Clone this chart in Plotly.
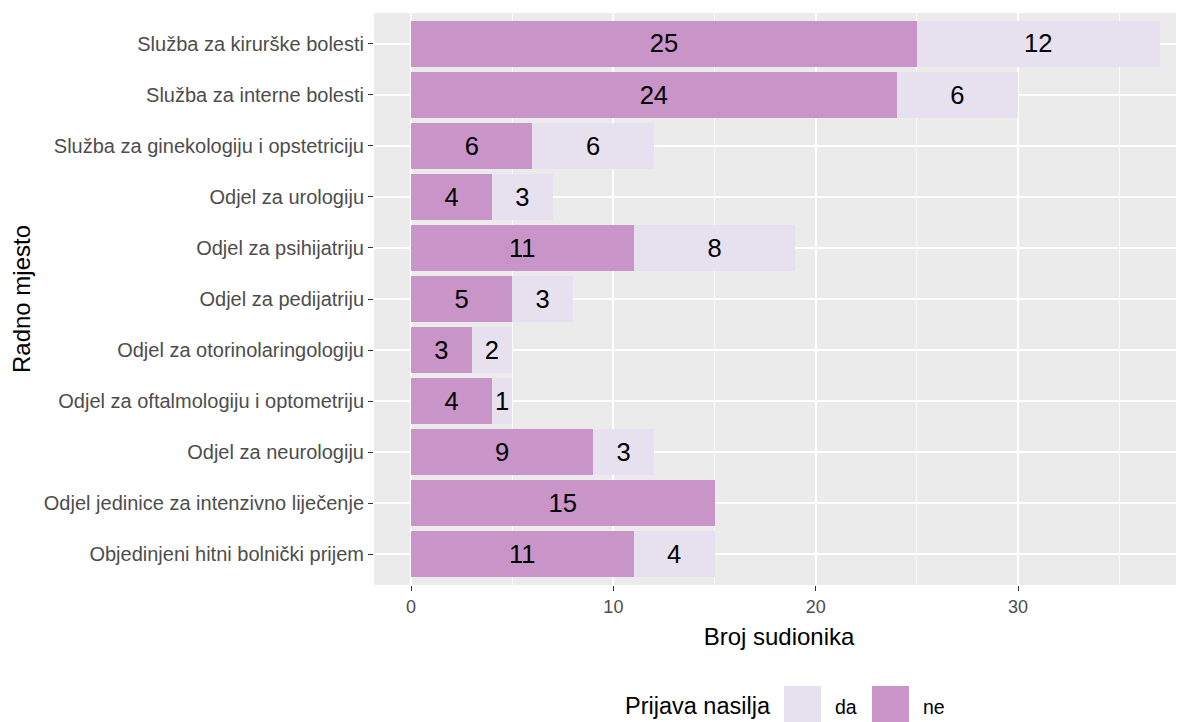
import plotly.graph_objects as go

categories = [
    "Objedinjeni hitni bolnički prijem",
    "Odjel jedinice za intenzivno liječenje",
    "Odjel za neurologiju",
    "Odjel za oftalmologiju i optometriju",
    "Odjel za otorinolaringologiju",
    "Odjel za pedijatriju",
    "Odjel za psihijatriju",
    "Odjel za urologiju",
    "Služba za ginekologiju i opstetriciju",
    "Služba za interne bolesti",
    "Služba za kirurške bolesti",
]
ne_values = [11, 15, 9, 4, 3, 5, 11, 4, 6, 24, 25]
da_values = [4, 0, 3, 1, 2, 3, 8, 3, 6, 6, 12]
x_ticks = [0, 10, 20, 30]
legend_title = "Prijava nasilja"
legend_items = ["da", "ne"]

FONT = "Liberation Sans, Arial, sans-serif"
C_NE = "#C994C7"
C_DA = "#E7E1EF"
colors = {"da": C_DA, "ne": C_NE}

# the page body has an 8px margin, so the figure starts at (8, 8) in the window
OFF = 8
WIN_W, WIN_H = 1184, 722
W, H = WIN_W - OFF, WIN_H - OFF
# panel edges in window pixels
P_LEFT, P_RIGHT, P_TOP, P_BOTTOM = 374, 1184, 13, 585
L, R, T, B = P_LEFT - OFF, WIN_W - P_RIGHT, P_TOP - OFF, WIN_H - P_BOTTOM
PW, PH = W - L - R, H - T - B


def px_x(px):
    return (px - P_LEFT) / PW


def px_y(py):
    return (P_BOTTOM - py) / PH


def labels(vals):
    return [str(v) if v > 0 else "" for v in vals]


fig = go.Figure()
for name, vals in (("ne", ne_values), ("da", da_values)):
    fig.add_trace(go.Bar(
        y=categories, x=vals, name=name, orientation="h",
        marker=dict(color=colors[name], line=dict(width=0)),
        text=labels(vals), textposition="inside", insidetextanchor="middle",
        textfont=dict(size=29, color="#000000", family=FONT),
        width=0.9, showlegend=False,
    ))

# legend drawn at the bottom (ggplot style)
shapes = []
annotations = [dict(
    xref="paper", yref="paper", x=px_x(773), y=px_y(706),
    xanchor="right", yanchor="middle", showarrow=False,
    text=legend_title, font=dict(size=23.5, color="#000000", family=FONT),
)]
key_left = {"da": 784, "ne": 872}
for item in legend_items:
    kx = key_left[item]
    shapes.append(dict(
        type="rect", xref="paper", yref="paper",
        x0=px_x(kx), x1=px_x(kx + 37), y0=px_y(686), y1=px_y(724),
        fillcolor=colors[item], line=dict(width=0), layer="above",
    ))
    annotations.append(dict(
        xref="paper", yref="paper", x=px_x(kx + 49), y=px_y(707),
        xanchor="left", yanchor="middle", showarrow=False,
        text=item, font=dict(size=19.5, color="#000000", family=FONT),
    ))

fig.update_layout(
    barmode="stack",
    width=W, height=H,
    margin=dict(l=L, r=R, t=T, b=B, autoexpand=False),
    paper_bgcolor="white",
    plot_bgcolor="#EBEBEB",
    font=dict(family=FONT, color="#4D4D4D", size=19),
    uniformtext=dict(minsize=8, mode="show"),
    showlegend=False,
    bargap=0.1,
    shapes=shapes,
    annotations=annotations,
)
fig.update_xaxes(
    range=[-1.83, 38.2],
    tickvals=x_ticks, ticktext=[str(v) for v in x_ticks],
    ticks="outside", ticklen=5, tickcolor="#333333", tickwidth=1.2,
    tickfont=dict(size=18, color="#4D4D4D"),
    showgrid=True, gridcolor="white", gridwidth=1.5,
    minor=dict(tickvals=[5, 15, 25, 35], showgrid=True, gridcolor="#FAFAFA", gridwidth=0.8, ticks=""),
    zeroline=False, showline=False, automargin=False,
    title=dict(text="Broj sudionika", font=dict(size=24, color="#000000"), standoff=12),
)
fig.update_yaxes(
    categoryorder="array", categoryarray=categories,
    range=[-0.6, 10.6],
    ticks="outside", ticklen=5, tickcolor="#333333", tickwidth=1.2,
    tickfont=dict(size=20, color="#4D4D4D"),
    showgrid=True, gridcolor="white", gridwidth=1.5,
    zeroline=False, showline=False, automargin=False,
    title=dict(text="Radno mjesto", font=dict(size=24, color="#000000"), standoff=14),
)

fig.write_html("out.html")
